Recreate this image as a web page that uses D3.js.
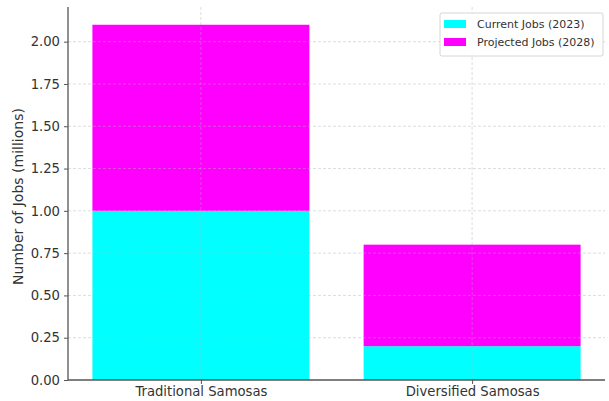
<!DOCTYPE html>
<html>
<head>
<meta charset="utf-8">
<script src="https://cdn.jsdelivr.net/npm/d3@7"></script>
<style>
  html, body { margin: 0; padding: 0; background: #fff; }
  svg { display: block; font-family: "DejaVu Sans", sans-serif; }
</style>
</head>
<body>
<svg id="chart" width="609" height="401"></svg>
<script>
// Job counts, in millions
const categories = ["Traditional Samosas", "Diversified Samosas"];
const currentJobs = [1.0, 0.2];
const projectedJobs = [1.1, 0.6];
const seriesNames = ["Current Jobs (2023)", "Projected Jobs (2028)"];
const seriesColors = ["#00ffff", "#ff00ff"];
const yTicks = [0, 0.25, 0.5, 0.75, 1.0, 1.25, 1.5, 1.75, 2.0];

const svg = d3.select("#chart");
const margin = { left: 68, right: 4, top: 7, bottom: 21 };
const W = 609, H = 401;
const plotL = margin.left, plotR = W - margin.right;
const plotT = margin.top, plotB = H - margin.bottom;

const totals = categories.map((c, i) => currentJobs[i] + projectedJobs[i]);
const yMax = d3.max(totals) * 1.05;

// categorical x positions 0..n-1 with bar width 0.8 and 5% padding
const x = d3.scaleLinear().domain([-0.49, categories.length - 1 + 0.49]).range([plotL, plotR]);
const y = d3.scaleLinear().domain([0, yMax]).range([plotB, plotT]);
const barW = x(0.8) - x(0);

const rows = categories.map((c, i) => ({ cat: c, idx: i, current: currentJobs[i], projected: projectedJobs[i] }));
const stack = d3.stack().keys(["current", "projected"])(rows);

// bars
svg.append("g").selectAll("g")
  .data(stack).join("g")
  .attr("fill", (d, i) => seriesColors[i])
  .selectAll("rect")
  .data(d => d).join("rect")
  .attr("x", d => x(d.data.idx) - barW / 2)
  .attr("width", barW)
  .attr("y", d => y(d[1]))
  .attr("height", d => y(d[0]) - y(d[1]));

// dashed grid
const grid = svg.append("g").attr("stroke", "#b0b0b0").attr("stroke-opacity", 0.55)
  .attr("stroke-dasharray", "3,2").attr("stroke-width", 0.8);
grid.selectAll("line.h").data(yTicks.slice(1)).join("line")
  .attr("x1", plotL).attr("x2", plotR)
  .attr("y1", d => y(d)).attr("y2", d => y(d));
grid.selectAll("line.v").data(categories.map((c, i) => i)).join("line")
  .attr("y1", plotT).attr("y2", plotB)
  .attr("x1", d => x(d)).attr("x2", d => x(d));

// y axis
const yAxis = svg.append("g").attr("transform", `translate(${plotL},0)`)
  .call(d3.axisLeft(y).tickValues(yTicks).tickFormat(d3.format(".2f")).tickSize(4).tickPadding(4));
yAxis.select(".domain").attr("d", `M0,${plotT}V${plotB}`);

// x axis
const xAxis = svg.append("g").attr("transform", `translate(0,${plotB})`)
  .call(d3.axisBottom(x).tickValues(categories.map((c, i) => i)).tickFormat(i => categories[i]).tickSize(4).tickPadding(3));
xAxis.select(".domain").attr("d", `M${plotL},0H${plotR}`);

[yAxis, xAxis].forEach(a => {
  a.select(".domain").attr("stroke", "#555").attr("stroke-width", 1.3);
  a.selectAll(".tick line").attr("stroke", "#555");
  a.selectAll(".tick text").attr("fill", "#333").attr("font-size", 13.2)
    .attr("font-family", "DejaVu Sans, sans-serif");
});

// y axis title
svg.append("text")
  .attr("transform", `translate(23,${(plotT + plotB) / 2 + 3}) rotate(-90)`)
  .attr("text-anchor", "middle")
  .attr("font-size", 14).attr("fill", "#333")
  .text("Number of Jobs (millions)");

// legend
const lg = svg.append("g").attr("transform", "translate(440,13)");
lg.append("rect").attr("width", 163).attr("height", 43).attr("rx", 2)
  .attr("fill", "#fff").attr("fill-opacity", 0.85).attr("stroke", "#d6d6d6");
seriesNames.forEach((name, i) => {
  const g = lg.append("g").attr("transform", `translate(4,${6 + i * 18})`);
  g.append("rect").attr("width", 22).attr("height", 8).attr("y", 1).attr("fill", seriesColors[i]);
  g.append("text").attr("x", 33).attr("y", 9).attr("font-size", 11).attr("fill", "#333").text(name);
});
</script>
</body>
</html>
